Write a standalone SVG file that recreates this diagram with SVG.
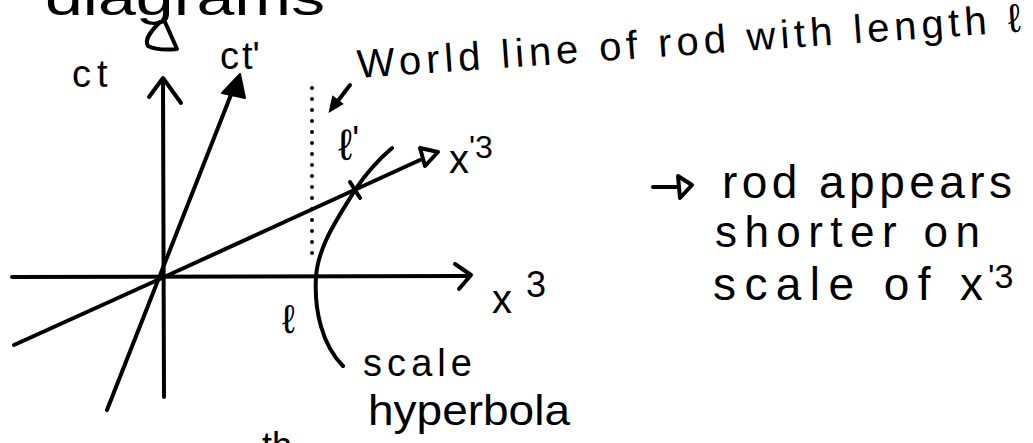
<svg xmlns="http://www.w3.org/2000/svg" width="1033" height="443" viewBox="0 0 1033 443">
<style>
.ln{fill:none;stroke:#000;stroke-width:4;stroke-linecap:round;stroke-linejoin:round}
.dot{fill:none;stroke:#000;stroke-width:4;stroke-linecap:round;stroke-dasharray:0 11}
.t{font-family:"Liberation Sans","DejaVu Sans",sans-serif;fill:#000}
</style>
<rect width="1033" height="443" fill="#fff"/>
<g id="title">
<text class="t" x="45" y="15" font-size="50" textLength="280" lengthAdjust="spacingAndGlyphs">diagrams</text>
<path class="ln" d="M160,22 C150,32 144,40 148,46 C156,50 168,50 177,49 L165,22"/>
</g>
<g id="connectors">
<path class="ln" d="M164,397 L163,80"/>
<path class="ln" d="M149,97 L163,78 L181,103"/>
<path class="ln" d="M12,277 L466,276"/>
<path class="ln" d="M455,264 L471,275 L459,289"/>
<path class="ln" d="M107,410 L236,82"/>
<path d="M240,74 L222,93 L245,98 Z" fill="#000" stroke="#000" stroke-width="2" stroke-linejoin="round"/>
<path class="ln" d="M14,345 L162,278 L420,160"/>
<path class="ln" d="M420,148 L438,152 L425,166 Z"/>
<path class="dot" d="M312,88 L312,262"/>
<path class="ln" d="M350,85 L334,106"/>
<path d="M330,111 L333,97 L342,104 Z" fill="#000" stroke="#000" stroke-width="2"/>
<path class="ln" d="M343,366 C322,345 314,310 316,277 C318,245 340,215 355,190 C365,175 378,160 392,148" stroke-width="4.5"/>
<path class="ln" d="M350,182 L360,198"/>
</g>
<g id="labels">
<text class="t" x="72" y="87" font-size="38">c<tspan dx="6">t</tspan></text>
<text class="t" x="220" y="69" font-size="38">c<tspan dx="3">t'</tspan></text>
<text class="t" x="338" y="160" font-size="44">ℓ<tspan font-size="36" dy="-8">'</tspan></text>
<text class="t" x="282" y="333" font-size="40">ℓ</text>
<text class="t" x="449" y="173" font-size="40">x<tspan font-size="32" dy="-15">'3</tspan></text>
<text class="t" x="492" y="313" font-size="40">x<tspan dx="14" font-size="36" dy="-16">3</tspan></text>
<text class="t" x="363" y="376" font-size="38" textLength="109" lengthAdjust="spacing">scale</text>
<text class="t" x="368" y="425" font-size="42" textLength="202" lengthAdjust="spacingAndGlyphs">hyperbola</text>
<text class="t" x="262" y="458" font-size="36">th</text>
</g>
<g id="note-top">
<text class="t" transform="rotate(-4 358 78)" x="358" y="78" font-size="40" textLength="665" lengthAdjust="spacing">World line of rod with length ℓ</text>
</g>
<g id="note-right">
<path class="ln" d="M653,187 L678,187"/>
<path class="ln" d="M678,176 L692,185 L680,198 Z"/>
<text class="t" x="722" y="198" font-size="46" textLength="290" lengthAdjust="spacing">rod appears</text>
<text class="t" x="715" y="247" font-size="44" textLength="265" lengthAdjust="spacing">shorter on</text>
<text class="t" x="713" y="300" font-size="46" textLength="270" lengthAdjust="spacing">scale of x</text>
<text class="t" x="988" y="288" font-size="34">'3</text>
</g>
</svg>
